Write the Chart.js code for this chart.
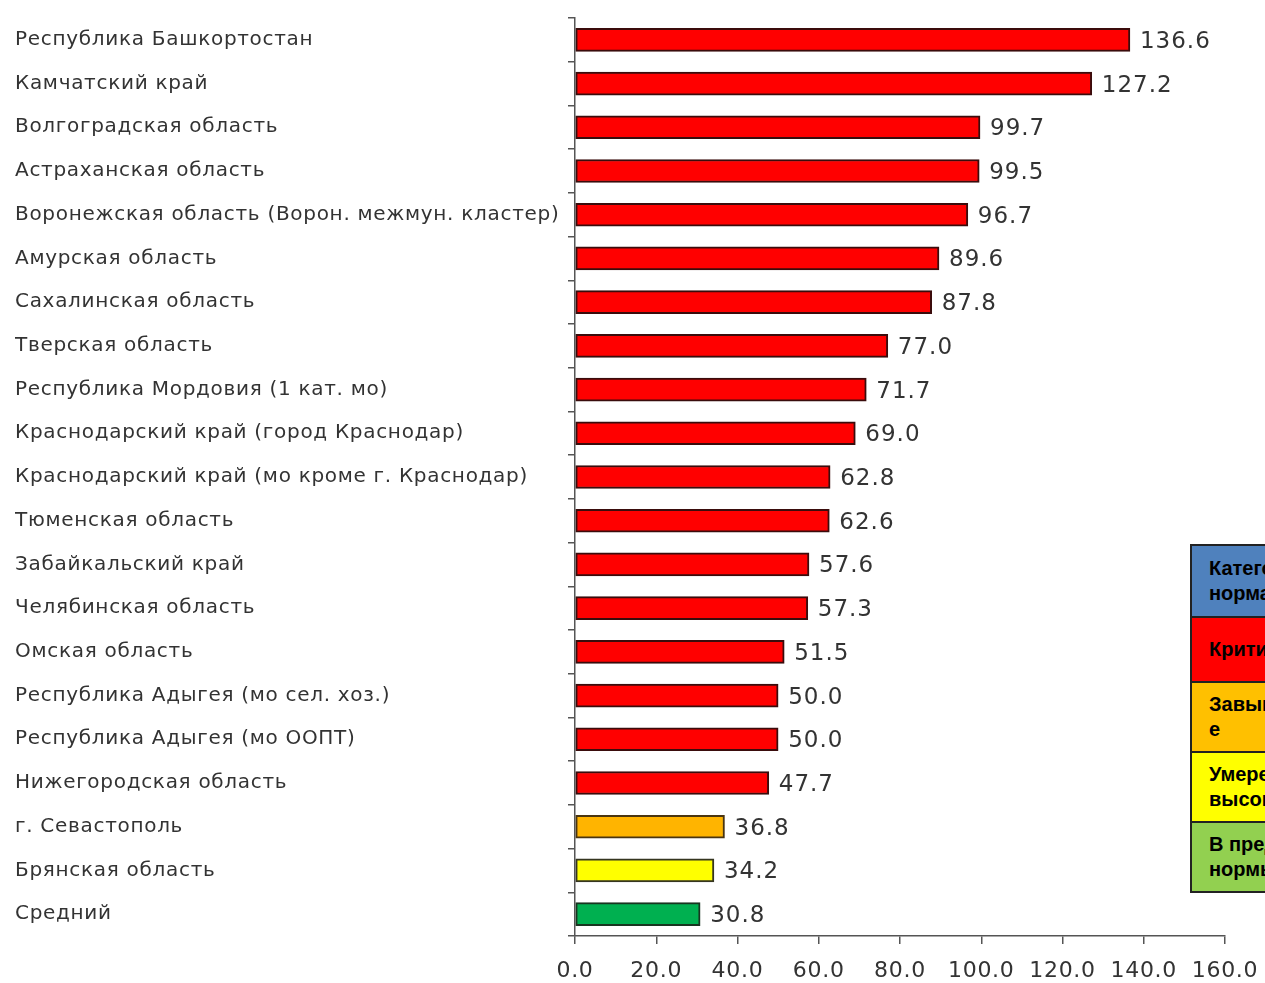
<!DOCTYPE html>
<html lang="ru">
<head>
<meta charset="utf-8">
<title>Регионы</title>
<script src="https://cdn.jsdelivr.net/npm/chart.js@4.4.1/dist/chart.umd.min.js"></script>
<style>
    html, body { margin: 0; padding: 0; background: #fff; overflow: hidden; }
    #wrap { position: relative; width: 1265px; height: 983px; }
    #legend-box {
        position: absolute; left: 1190px; top: 544px; width: 220px;
        border: 2px solid #222; border-right: none;
        font-family: "Liberation Sans", Arial, sans-serif; font-weight: bold;
        font-size: 20px; line-height: 25px; color: #000;
    }
    #legend-box div {
        box-sizing: border-box; padding: 0 0 0 17px; white-space: nowrap;
        border-top: 2px solid #222; display: flex; align-items: center;
    }
    #legend-box div:first-child { border-top: none; }
</style>
</head>
<body>
<div id="wrap">
    <canvas id="chart" width="1265" height="983"></canvas>
    <div id="legend-box"></div>
</div>
<script>
// Data
const regions = [
    'Республика Башкортостан',
    'Камчатский край',
    'Волгоградская область',
    'Астраханская область',
    'Воронежская область (Ворон. межмун. кластер)',
    'Амурская область',
    'Сахалинская область',
    'Тверская область',
    'Республика Мордовия (1 кат. мо)',
    'Краснодарский край (город Краснодар)',
    'Краснодарский край (мо кроме г. Краснодар)',
    'Тюменская область',
    'Забайкальский край',
    'Челябинская область',
    'Омская область',
    'Республика Адыгея (мо сел. хоз.)',
    'Республика Адыгея (мо ООПТ)',
    'Нижегородская область',
    'г. Севастополь',
    'Брянская область',
    'Средний'
];
const values = [136.6, 127.2, 99.7, 99.5, 96.7, 89.6, 87.8, 77.0, 71.7, 69.0,
                62.8, 62.6, 57.6, 57.3, 51.5, 50.0, 50.0, 47.7, 36.8, 34.2, 30.8];
// category of each bar
const levels = ['crit', 'crit', 'crit', 'crit', 'crit', 'crit', 'crit', 'crit', 'crit', 'crit',
                'crit', 'crit', 'crit', 'crit', 'crit', 'crit', 'crit', 'crit', 'high', 'moderate', 'avg'];
const xTicks = [0, 20, 40, 60, 80, 100, 120, 140, 160];

// Legend table (clipped at right page edge)
const legendRows = [
    { text: 'Категория<br>норматива', bg: '#4f81bd', h: 70 },
    { text: 'Критический', bg: '#ff0000', h: 65 },
    { text: 'Завышенно<br>е', bg: '#ffc000', h: 70 },
    { text: 'Умеренно<br>высокий', bg: '#ffff00', h: 70 },
    { text: 'В пределах<br>нормы', bg: '#92d050', h: 70 }
];

// Styles
const FILL = { crit: '#ff0000', high: '#ffb400', moderate: '#ffff00', avg: '#00b050' };
const EDGE = { crit: '#3a0c0c', high: '#4a3510', moderate: '#353520', avg: '#183520' };
const TEXT_COLOR = '#333333';
const LABEL_FONT = { family: 'DejaVu Sans', size: 20 };
const TICK_FONT = { family: 'DejaVu Sans', size: 22 };
const VALUE_FONT = { family: 'DejaVu Sans', size: 23 };

// Slightly spaced-out lettering, like the original
const spacing = {
    id: 'spacing',
    beforeDraw(chart) { chart.ctx.letterSpacing = '0.7px'; },
    afterDraw(chart) { chart.ctx.letterSpacing = '0px'; }
};

// Value labels at bar ends
const valueLabels = {
    id: 'valueLabels',
    afterDatasetsDraw(chart) {
        const ctx = chart.ctx;
        const meta = chart.getDatasetMeta(0);
        ctx.save();
        ctx.letterSpacing = '1px';
        ctx.font = `${VALUE_FONT.size}px "${VALUE_FONT.family}"`;
        ctx.fillStyle = TEXT_COLOR;
        ctx.textAlign = 'left';
        ctx.textBaseline = 'middle';
        meta.data.forEach((bar, i) => {
            ctx.fillText(values[i].toFixed(1), bar.x + 10, bar.y + 2);
        });
        ctx.restore();
    }
};

function buildLegend() {
    const box = document.getElementById('legend-box');
    box.innerHTML = legendRows.map(r =>
        `<div style="background:${r.bg};height:${r.h}px"><span>${r.text}</span></div>`).join('');
}

function buildChart() {
    const ctx = document.getElementById('chart').getContext('2d');
    new Chart(ctx, {
        type: 'bar',
        data: {
            labels: regions,
            datasets: [{
                data: values,
                backgroundColor: levels.map(l => FILL[l]),
                borderColor: levels.map(l => EDGE[l]),
                borderWidth: 2,
                borderSkipped: false,
                barThickness: 23
            }]
        },
        options: {
            indexAxis: 'y',
            responsive: false,
            animation: false,
            layout: { padding: { left: 15, top: 16, right: 40, bottom: 0 } },
            plugins: { legend: { display: false }, tooltip: { enabled: false } },
            scales: {
                y: {
                    afterFit: s => { s.width = 560; },
                    grid: { drawOnChartArea: false, tickLength: 7, color: '#555', lineWidth: 1.5, offset: true },
                    border: { display: true, color: '#555', width: 1.5 },
                    ticks: { crossAlign: 'far', color: TEXT_COLOR, font: LABEL_FONT, padding: 6, autoSkip: false }
                },
                x: {
                    min: 0,
                    max: 160,
                    afterFit: s => { s.height = 47; s.paddingRight = 0; },
                    afterBuildTicks: s => { s.ticks = xTicks.map(v => ({ value: v })); },
                    grid: { drawOnChartArea: false, tickLength: 8, color: '#555', lineWidth: 1.5 },
                    border: { display: true, color: '#555', width: 1.5 },
                    ticks: { color: TEXT_COLOR, font: TICK_FONT, padding: 14, maxRotation: 0,
                             callback: v => Number(v).toFixed(1) }
                }
            }
        },
        plugins: [spacing, valueLabels]
    });
}

document.addEventListener('DOMContentLoaded', function () {
    buildLegend();
    buildChart();
});
</script>
</body>
</html>
